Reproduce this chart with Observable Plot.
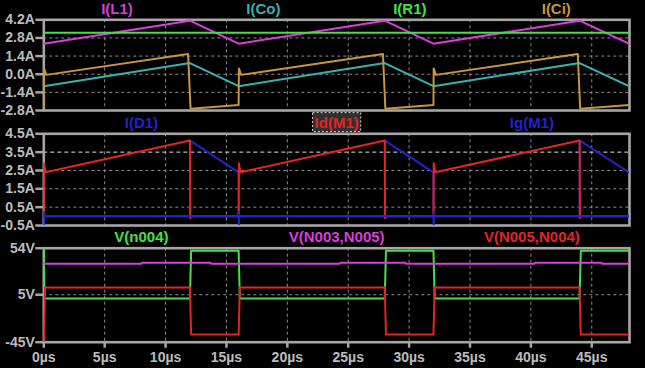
<!DOCTYPE html>
<html><head><meta charset="utf-8">
<script src="https://cdn.jsdelivr.net/npm/d3@7"></script>
<script src="https://cdn.jsdelivr.net/npm/@observablehq/plot@0.6"></script>
<style>
html,body{margin:0;padding:0;background:#000;}
#chart{position:relative;width:645px;height:368px;background:#000;overflow:hidden;}
#chart svg{position:absolute;left:0;top:0;}
</style></head><body><div id="chart"></div>
<script>
// ---------------- data ----------------
const tMax = 48.1; // µs shown
const xTicks = [0, 5, 10, 15, 20, 25, 30, 35, 40, 45];

// pane 1 : currents
const p1Ticks = [4.2, 2.8, 1.4, 0, -1.4, -2.8];
const p1Names = ["I(L1)", "I(Co)", "I(R1)", "I(Ci)"];
const tL1 = [0, 12, 16, 28, 32, 44, 48.1];
const iL1 = [2.36, 4.13, 2.36, 4.13, 2.36, 4.13, 2.34];
const tCo = [0, 12, 16, 28, 32, 44, 48.1];
const iCo = [-0.93, 0.86, -0.92, 0.86, -0.92, 0.86, -0.94];
const tR1 = [0, 48.1];
const iR1 = [3.2, 3.2];
const tCi = [0, 0.02, 0.2, 11.85, 12.05, 16, 16.02, 16.2, 27.85, 28.05, 32, 32.02, 32.2, 43.85, 44.05, 48.1];
const iCi = [-2.6, 0.45, -0.05, 1.56, -2.67, -2.37, 0.45, -0.05, 1.56, -2.67, -2.37, 0.45, -0.05, 1.56, -2.67, -2.37];

// pane 2 : switch currents
const p2Ticks = [4.5, 3.5, 2.5, 1.5, 0.5, -0.5];
const p2Names = ["I(D1)", "Id(M1)", "Ig(M1)"];
const tD1 = [0, 12, 12.02, 16, 16.02, 28, 28.02, 32, 32.02, 44, 44.02, 48.1];
const iD1 = [0, 0, 4.13, 2.4, 0, 0, 4.13, 2.4, 0, 0, 4.13, 2.38];
const tM1d = [0, 0.02, 0.15, 12, 12.03, 12.1, 16, 16.02, 16.15, 28, 28.03, 28.1, 32, 32.02, 32.15, 44, 44.03, 44.1, 48.1];
const iM1d = [0, 2.9, 2.4, 4.13, -0.1, 0, 0, 2.9, 2.4, 4.13, -0.1, 0, 0, 2.9, 2.4, 4.13, -0.1, 0, 0];
const tM1g = [0, 0.01, 0.02, 0.04, 16, 16.01, 16.02, 16.04, 32, 32.01, 32.02, 32.04, 48.1];
const iM1g = [0, 0.25, -0.5, 0, 0, 0.25, -0.5, 0, 0, 0.25, -0.5, 0, 0];

// pane 3 : voltages
const p3Ticks = [54, 5, -45];
const p3Names = ["V(n004)", "V(N003,N005)", "V(N005,N004)"];
const tN004 = [0, 0.05, 12, 12.1, 16, 16.1, 28, 28.1, 32, 32.1, 44, 44.1, 48.1];
const vN004 = [54, 1.1, 1.1, 51.2, 51.2, 1.1, 1.1, 51.2, 51.2, 1.1, 1.1, 51.2, 51.2];
const tN35 = [0, 8, 8.05, 13.7, 13.75, 24.3, 24.35, 29.7, 29.75, 40.3, 40.35, 45.8, 45.85, 48.1];
const vN35 = [37.6, 37.6, 38.8, 38.8, 37.7, 37.7, 38.8, 38.8, 37.7, 37.7, 38.8, 38.8, 37.7, 37.7];
const tN54 = [0, 0.1, 12, 12.1, 16, 16.1, 28, 28.1, 32, 32.1, 44, 44.1, 48.1];
const vN54 = [-44, 12.7, 12.7, -37, -37, 12.7, 12.7, -37, -37, 12.7, 12.7, -37, -37];

// ---------------- styling ----------------
const C = {
  magenta: "#dc3cdc", teal: "#36b2b2", green: "#44e044", gold: "#c8963c",
  red: "#e42424", blue: "#2222cc", frame: "#a6a6a6", grid: "#8c8c8c", text: "#bcbcbc"
};
const zip = (t, v) => t.map((x, i) => ({t: x, v: v[i]}));

function pane({top, bottom, yDomain, yTicks, yFmt, gridY, brightY, series, names, xAxis}) {
  const n = names.length;
  const lbl = names.map((name, i) => ({name, x: tMax * (2 * i + 1) / (2 * n), color: series[i].color}));
  const marks = [
    Plot.gridX(xTicks.slice(1), {stroke: C.grid, strokeOpacity: 1, strokeWidth: 1, strokeDasharray: "3,3"}),
    Plot.gridY(gridY, {stroke: C.grid, strokeOpacity: 1, strokeWidth: 1, strokeDasharray: "3,3"}),
  ];
  if (brightY) marks.push(Plot.gridY(brightY, {stroke: "#e0e0e0", strokeOpacity: 1, strokeWidth: 1, strokeDasharray: "4,3"}));
  marks.push(Plot.frame({stroke: C.frame, strokeWidth: 2.6}));
  marks.push(Plot.axisY(yTicks, {tickFormat: yFmt, tickSize: 8, tickPadding: 1, stroke: C.frame, strokeWidth: 2.5,
    fill: C.text, fontSize: 14, fontWeight: "bold", label: null}));
  if (xAxis) marks.push(Plot.axisX(xTicks, {tickFormat: d => d + "µs", tickSize: 6, tickPadding: 4, stroke: C.frame,
    strokeWidth: 2.5, fill: C.text, fontSize: 14, fontWeight: "bold", label: null}));
  for (const s of series) {
    marks.push(Plot.line(zip(s.t, s.v), {x: "t", y: "v", stroke: s.color, strokeWidth: 2, clip: true, strokeLinejoin: "round"}));
  }
  marks.push(Plot.text(lbl, {x: "x", text: "name", fill: "color", frameAnchor: "top", dy: -11,
    fontSize: 15, fontWeight: "bold", lineAnchor: "middle"}));
  return Plot.plot({
    width: 645, height: 368,
    marginLeft: 43.3, marginRight: 16, marginTop: top, marginBottom: 368 - bottom,
    x: {domain: [0, tMax], axis: null},
    y: {domain: yDomain},
    style: {background: "transparent", color: C.text, fontFamily: "'Liberation Sans', Arial, sans-serif"},
    marks
  });
}

const chart = document.getElementById("chart");

const p1 = pane({
  top: 19.3, bottom: 110, yDomain: [-2.8, 4.2], yTicks: p1Ticks, yFmt: d => d.toFixed(1) + "A",
  gridY: [2.8, 1.4, 0, -1.4], names: p1Names,
  series: [
    {t: tL1, v: iL1, color: C.magenta},
    {t: tCo, v: iCo, color: C.teal},
    {t: tR1, v: iR1, color: C.green},
    {t: tCi, v: iCi, color: C.gold}
  ]
});
const p2 = pane({
  top: 133.3, bottom: 225, yDomain: [-0.5, 4.5], yTicks: p2Ticks, yFmt: d => d.toFixed(1) + "A",
  gridY: [2.5, 1.5, 0.5], brightY: [3.5], names: p2Names,
  series: [
    {t: tD1, v: iD1, color: C.blue},
    {t: tM1d, v: iM1d, color: C.red},
    {t: tM1g, v: iM1g, color: C.blue}
  ]
});
const p3 = pane({
  top: 247.7, bottom: 341.7, yDomain: [-45, 54], yTicks: p3Ticks, yFmt: d => d + "V",
  gridY: [5], names: p3Names, xAxis: true,
  series: [
    {t: tN004, v: vN004, color: C.green},
    {t: tN35, v: vN35, color: C.magenta},
    {t: tN54, v: vN54, color: C.red}
  ]
});
chart.append(p1, p2, p3);

// dashed box around the selected trace label Id(M1)
d3.select(p2).selectAll("text").each(function () {
  if (this.textContent === "Id(M1)") {
    const b = this.getBBox();
    d3.select(this.parentNode).insert("rect", () => this)
      .attr("transform", this.getAttribute("transform"))
      .attr("x", b.x - 2).attr("y", b.y - 1).attr("width", b.width + 4).attr("height", b.height + 2)
      .attr("fill", "#303030").attr("stroke", "#d8d8d8").attr("stroke-width", 1).attr("stroke-dasharray", "2,2");
  }
});
</script></body></html>
